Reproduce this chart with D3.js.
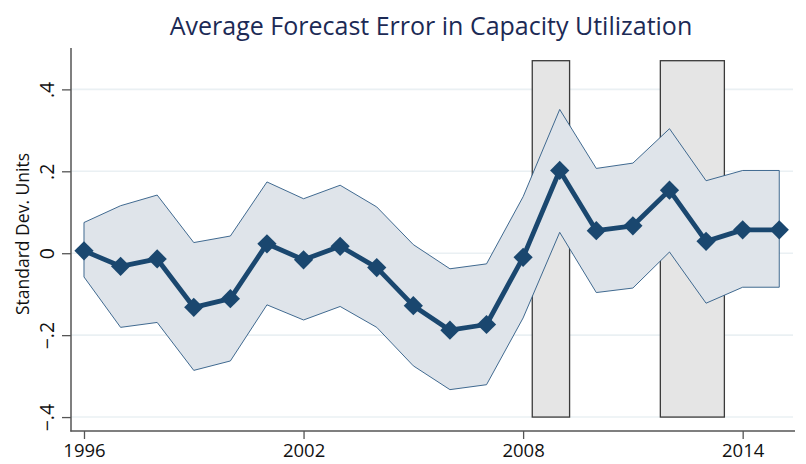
<!DOCTYPE html>
<html>
<head>
<meta charset="utf-8">
<script src="https://cdn.jsdelivr.net/npm/d3@7"></script>
<style>
  body { margin: 0; background: #fff; }
  svg { display: block; font-family: "Open Sans", sans-serif; }
</style>
</head>
<body>
<svg id="chart"></svg>
<script>
// Data
const years = [1996, 1997, 1998, 1999, 2000, 2001, 2002, 2003, 2004, 2005,
               2006, 2007, 2008, 2009, 2010, 2011, 2012, 2013, 2014, 2015];
const meanError = [0.006, -0.032, -0.014, -0.132, -0.111, 0.023, -0.016, 0.017, -0.035, -0.128,
                   -0.188, -0.174, -0.010, 0.202, 0.055, 0.067, 0.154, 0.029, 0.057, 0.057];
const upperBand = [0.075, 0.116, 0.142, 0.026, 0.042, 0.174, 0.133, 0.166, 0.113, 0.021,
                   -0.038, -0.026, 0.138, 0.351, 0.207, 0.220, 0.304, 0.177, 0.202, 0.202];
const lowerBand = [-0.058, -0.181, -0.169, -0.286, -0.263, -0.126, -0.163, -0.130, -0.181, -0.275,
                   -0.333, -0.321, -0.158, 0.051, -0.096, -0.085, 0.003, -0.122, -0.083, -0.083];
// shaded periods [start, end] in fractional years, and their vertical span
const shadedPeriods = [[2008.25, 2009.27], [2011.75, 2013.5]];
const shadeRange = [-0.4, 0.47];
const xTicks = [1996, 2002, 2008, 2014];
const yTicks = [-0.4, -0.2, 0, 0.2, 0.4];
const yTickLabels = ["\u2212.4", "\u2212.2", "0", ".2", ".4"];

const width = 806;
const height = 464;
const plot = { left: 71, right: 795, top: 48, bottom: 431 };
const navy = "#1a476f";

const svg = d3.select("#chart")
  .attr("width", width)
  .attr("height", height);

const x = d3.scaleLinear()
  .domain([1995.645, 2015.43])
  .range([plot.left, plot.right]);

const y = d3.scaleLinear()
  .domain([-0.434, 0.501])
  .range([plot.bottom, plot.top]);

const series = years.map((yr, i) => ({
  year: yr, mean: meanError[i], hi: upperBand[i], lo: lowerBand[i]
}));

// gridlines
svg.append("g")
  .selectAll("line")
  .data(yTicks)
  .enter()
  .append("line")
  .attr("x1", plot.left)
  .attr("x2", 793)
  .attr("y1", d => y(d))
  .attr("y2", d => y(d))
  .attr("stroke", "#eaf0f3")
  .attr("stroke-width", 1.6);

// shaded periods
svg.append("g")
  .selectAll("rect")
  .data(shadedPeriods)
  .enter()
  .append("rect")
  .attr("x", d => x(d[0]))
  .attr("width", d => x(d[1]) - x(d[0]))
  .attr("y", y(shadeRange[1]))
  .attr("height", y(shadeRange[0]) - y(shadeRange[1]))
  .attr("fill", "#e5e5e5")
  .attr("stroke", "#3a3a3a")
  .attr("stroke-width", 1.3);

// confidence band
const band = d3.area()
  .x(d => x(d.year))
  .y0(d => y(d.lo))
  .y1(d => y(d.hi));

svg.append("path")
  .datum(series)
  .attr("d", d => band(d) + "Z")
  .attr("fill", "#dfe4ea")
  .attr("stroke", "#2d5a85")
  .attr("stroke-width", 0.9)
  .attr("stroke-linejoin", "miter");

// mean line
const line = d3.line()
  .x(d => x(d.year))
  .y(d => y(d.mean));

svg.append("path")
  .datum(series)
  .attr("d", line)
  .attr("fill", "none")
  .attr("stroke", navy)
  .attr("stroke-width", 4.8)
  .attr("stroke-linejoin", "round");

// diamond markers (rotated squares)
const diamond = d3.symbol(d3.symbolSquare, 185);
svg.append("g")
  .selectAll("path")
  .data(series)
  .enter()
  .append("path")
  .attr("d", diamond)
  .attr("transform", d => `translate(${x(d.year)},${y(d.mean)}) rotate(45)`)
  .attr("fill", navy);

// y axis
const yAxis = svg.append("g")
  .attr("transform", `translate(${plot.left},0)`)
  .call(d3.axisLeft(y).tickValues(yTicks).tickSize(9).tickFormat((d, i) => yTickLabels[i]));
yAxis.select(".domain")
  .attr("d", `M0,${plot.top}V${plot.bottom + 0.5}`)
  .attr("stroke", "#555")
  .attr("stroke-width", 1.5);
yAxis.selectAll(".tick line").attr("stroke", "#555").attr("stroke-width", 1.3);
yAxis.selectAll(".tick text")
  .attr("x", null).attr("dy", null)
  .attr("transform", "translate(-17,0) rotate(-90)")
  .attr("text-anchor", "middle")
  .attr("font-size", 19.5)
  .attr("font-family", "Open Sans")
  .attr("fill", "#111");

// x axis
const xAxis = svg.append("g")
  .attr("transform", `translate(0,${plot.bottom})`)
  .call(d3.axisBottom(x).tickValues(xTicks).tickSize(8).tickFormat(d3.format("d")));
xAxis.select(".domain")
  .attr("d", `M${plot.left - 0.7},0H${plot.right}`)
  .attr("stroke", "#555")
  .attr("stroke-width", 1.5);
xAxis.selectAll(".tick line").attr("stroke", "#555").attr("stroke-width", 1.3);
xAxis.selectAll(".tick text")
  .attr("dy", null)
  .attr("y", 26)
  .attr("font-size", 18.5)
  .attr("font-family", "Open Sans")
  .attr("fill", "#111");

// axis title
svg.append("text")
  .attr("transform", "translate(29,234) rotate(-90)")
  .attr("text-anchor", "middle")
  .attr("font-size", 17.5)
  .attr("fill", "#111")
  .text("Standard Dev. Units");

// chart title
svg.append("text")
  .attr("x", 431)
  .attr("y", 35)
  .attr("text-anchor", "middle")
  .attr("font-size", 25)
  .attr("fill", "#1c2a55")
  .text("Average Forecast Error in Capacity Utilization");
</script>
</body>
</html>
